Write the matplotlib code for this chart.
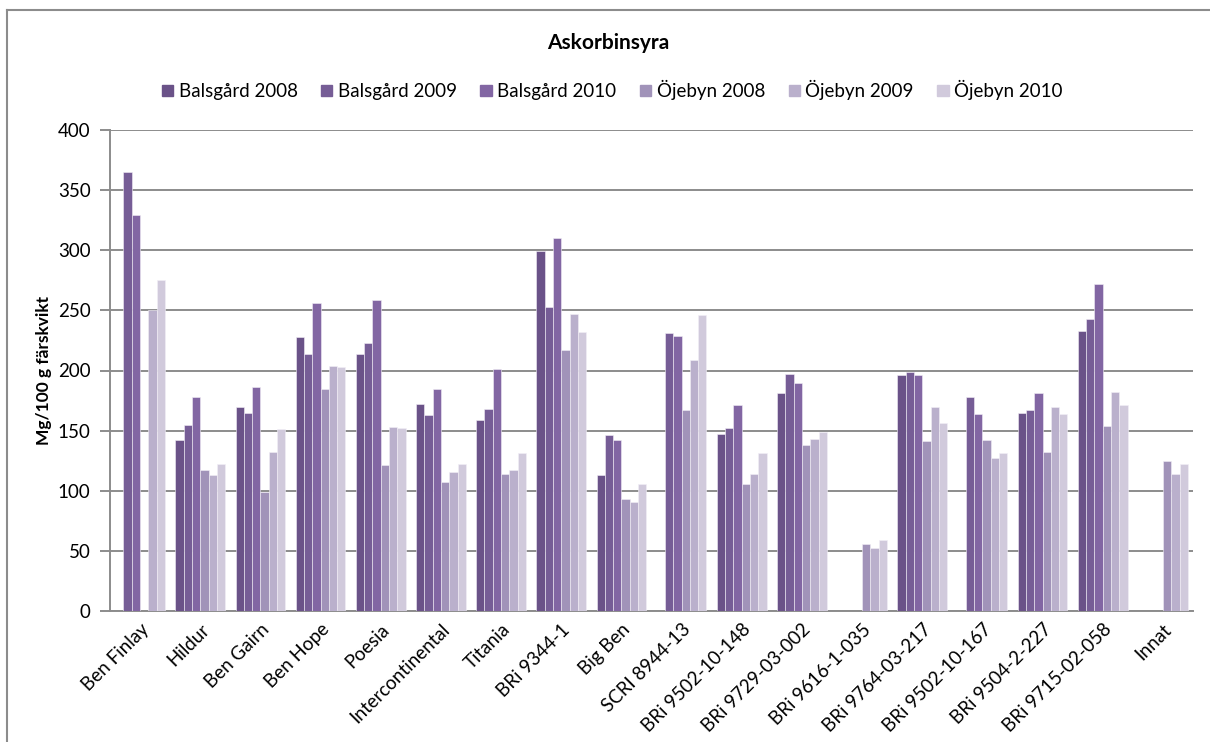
#!/usr/bin/env python3
"""Askorbinsyra bar chart (Balsgård / Öjebyn, 2008-2010)."""

import matplotlib
matplotlib.use("Agg")
import matplotlib.pyplot as plt
from matplotlib.lines import Line2D
import numpy as np

nan = np.nan

categories = [
    "Ben Finlay", "Hildur", "Ben Gairn", "Ben Hope", "Poesia", "Intercontinental",
    "Titania", "BRi 9344-1", "Big Ben", "SCRI 8944-13", "BRi 9502-10-148",
    "BRi 9729-03-002", "BRi 9616-1-035", "BRi 9764-03-217", "BRi 9502-10-167",
    "BRi 9504-2-227", "BRi 9715-02-058", "Innat",
]

series_names = [
    "Balsgård 2008", "Balsgård 2009", "Balsgård 2010",
    "Öjebyn 2008", "Öjebyn 2009", "Öjebyn 2010",
]

balsgard_2008 = [nan, 142, 170, 228, 214, 172, 159, 299, 113, nan, 147, 181, nan, 196, nan, 165, 233, nan]
balsgard_2009 = [365, 155, 165, 214, 223, 163, 168, 253, 146, 231, 152, 197, nan, 199, 178, 167, 243, nan]
balsgard_2010 = [329, 178, 186, 256, 259, 185, 201, 310, 142, 229, 171, 190, nan, 196, 164, 181, 272, nan]
ojebyn_2008 = [nan, 117, 99, 185, 121, 107, 114, 217, 93, 167, 106, 138, 56, 141, 142, 132, 154, 125]
ojebyn_2009 = [250, 113, 132, 204, 153, 116, 117, 247, 91, 209, 114, 143, 52, 170, 127, 170, 182, 114]
ojebyn_2010 = [275, 122, 151, 203, 152, 122, 131, 232, 106, 246, 131, 149, 59, 156, 131, 164, 171, 122]

series = [balsgard_2008, balsgard_2009, balsgard_2010, ojebyn_2008, ojebyn_2009, ojebyn_2010]
colors = ["#6a5288", "#765d96", "#8266a3", "#a193b9", "#bab0cc", "#d1cadc"]

FONT = ["Lato", "DejaVu Sans"]
plt.rcParams["font.family"] = FONT

W, H = 1210, 742
fig = plt.figure(figsize=(W / 100, H / 100), dpi=100)
ax = fig.add_axes([110 / W, 1 - 611 / H, (1193 - 110) / W, (611 - 130) / H])

x = np.arange(len(categories))
bw = 0.138
for i, (vals, col) in enumerate(zip(series, colors)):
    ax.bar(x + (i - 2.5) * bw, vals, width=bw, color=col,
           edgecolor="#f2eff6", linewidth=0.4, label=series_names[i], zorder=3)

ax.set_xlim(-0.5, len(categories) - 0.5)
ax.set_ylim(0, 400)
ax.set_yticks(range(0, 401, 50))
ax.yaxis.grid(True, color="#8c8c8c", linewidth=1.4, zorder=0)
ax.set_axisbelow(True)

for s in ["top", "right"]:
    ax.spines[s].set_visible(False)
for s in ["left", "bottom"]:
    ax.spines[s].set_color("#8c8c8c")
    ax.spines[s].set_linewidth(1.4)

ax.tick_params(axis="y", length=7, width=1.4, color="#8c8c8c", labelsize=13.5, pad=7)
ax.tick_params(axis="x", length=0, labelsize=13.5, pad=7)
ax.set_xticks(x)
ax.set_xticklabels(categories, rotation=45, ha="right", rotation_mode="anchor")

ax.set_ylabel("Mg/100 g färskvikt", fontsize=12.5, fontweight="bold", labelpad=4)

fig.text(0.503, 1 - 43 / H, "Askorbinsyra", ha="center", va="center",
         fontsize=15, fontweight="bold")

handles = [plt.Rectangle((0, 0), 1, 1, color=c) for c in colors]
fig.legend(handles, series_names, loc="center", bbox_to_anchor=(0.506, 1 - 90 / H),
           ncol=6, frameon=False, fontsize=13.5, handlelength=0.6, handleheight=0.6,
           handletextpad=0.3, columnspacing=1.25)

# outer chart border (only top and left visible in the crop)
fig.add_artist(Line2D([7 / W, 7 / W], [0, 1 - 10 / H], transform=fig.transFigure,
                      color="#8c8c8c", linewidth=1.5))
fig.add_artist(Line2D([7 / W, 1], [1 - 10 / H, 1 - 10 / H], transform=fig.transFigure,
                      color="#8c8c8c", linewidth=1.5))

fig.savefig("out.png", dpi=100)
plt.close(fig)
